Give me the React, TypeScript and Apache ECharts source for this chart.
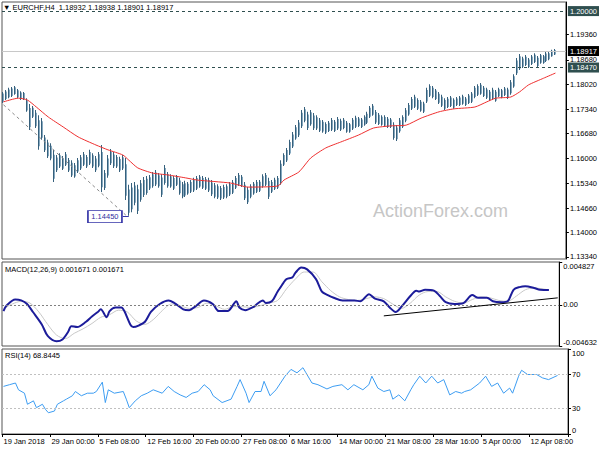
import React, { useEffect, useRef } from 'react';
import * as echarts from 'echarts';

const FONT = '"Liberation Sans", Arial, sans-serif';

// x axis: one slot = two H4 bars
const slotCount = 189;
const labelStep = 16;
const dateLabels = ['19 Jan 2018', '29 Jan 00:00', '5 Feb 08:00', '12 Feb 16:00', '20 Feb 00:00', '27 Feb 08:00', '6 Mar 16:00', '14 Mar 00:00', '21 Mar 08:00', '28 Mar 16:00', '5 Apr 00:00', '12 Apr 08:00'];

const barHigh = [
  1.1781, 1.1786, 1.1792, 1.1794, 1.1797, 1.1789, 1.1783, 1.1781, 1.1764, 1.1748,
  1.1743, 1.1732, 1.1718, 1.1710, 1.1664, 1.1651, 1.1642, 1.1624, 1.1610, 1.1615,
  1.1607, 1.1618, 1.1602, 1.1596, 1.1588, 1.1602, 1.1610, 1.1618, 1.1610, 1.1624,
  1.1615, 1.1607, 1.1618, 1.1637, 1.1569, 1.1610, 1.1626, 1.1618, 1.1610, 1.1605,
  1.1610, 1.1602, 1.1529, 1.1534, 1.1537, 1.1529, 1.1542, 1.1550, 1.1553, 1.1556,
  1.1564, 1.1569, 1.1561, 1.1558, 1.1583, 1.1564, 1.1558, 1.1553, 1.1556, 1.1548,
  1.1537, 1.1540, 1.1537, 1.1542, 1.1548, 1.1553, 1.1556, 1.1553, 1.1550, 1.1548,
  1.1542, 1.1534, 1.1531, 1.1526, 1.1529, 1.1531, 1.1537, 1.1542, 1.1553, 1.1561,
  1.1556, 1.1537, 1.1523, 1.1531, 1.1537, 1.1542, 1.1542, 1.1558, 1.1561, 1.1548,
  1.1542, 1.1548, 1.1553, 1.1596, 1.1615, 1.1629, 1.1651, 1.1672, 1.1691, 1.1705,
  1.1732, 1.1740, 1.1727, 1.1732, 1.1724, 1.1718, 1.1710, 1.1705, 1.1699, 1.1702,
  1.1710, 1.1705, 1.1713, 1.1708, 1.1710, 1.1702, 1.1697, 1.1710, 1.1716, 1.1713,
  1.1710, 1.1718, 1.1727, 1.1743, 1.1748, 1.1732, 1.1724, 1.1718, 1.1718, 1.1713,
  1.1710, 1.1699, 1.1691, 1.1710, 1.1718, 1.1737, 1.1751, 1.1767, 1.1773, 1.1764,
  1.1759, 1.1754, 1.1792, 1.1802, 1.1797, 1.1789, 1.1781, 1.1773, 1.1764, 1.1767,
  1.1770, 1.1764, 1.1767, 1.1770, 1.1773, 1.1767, 1.1775, 1.1781, 1.1797, 1.1802,
  1.1805, 1.1797, 1.1792, 1.1786, 1.1792, 1.1786, 1.1792, 1.1789, 1.1794, 1.1792,
  1.1813, 1.1829, 1.1873, 1.1884, 1.1876, 1.1881, 1.1873, 1.1881, 1.1886, 1.1878,
  1.1884, 1.1881, 1.1889, 1.1889, 1.1895, 1.1897,
];

const barLow = [
  1.1751, 1.1759, 1.1764, 1.1767, 1.1773, 1.1764, 1.1759, 1.1759, 1.1727, 1.1678,
  1.1710, 1.1683, 1.1624, 1.1651, 1.1618, 1.1602, 1.1596, 1.1537, 1.1564, 1.1575,
  1.1569, 1.1580, 1.1564, 1.1550, 1.1548, 1.1561, 1.1569, 1.1580, 1.1575, 1.1583,
  1.1575, 1.1564, 1.1577, 1.1510, 1.1515, 1.1548, 1.1583, 1.1575, 1.1575, 1.1564,
  1.1569, 1.1488, 1.1445, 1.1455, 1.1474, 1.1450, 1.1483, 1.1496, 1.1502, 1.1515,
  1.1521, 1.1526, 1.1521, 1.1496, 1.1529, 1.1521, 1.1521, 1.1515, 1.1526, 1.1502,
  1.1493, 1.1496, 1.1502, 1.1507, 1.1510, 1.1515, 1.1521, 1.1518, 1.1515, 1.1510,
  1.1499, 1.1493, 1.1491, 1.1488, 1.1491, 1.1493, 1.1499, 1.1504, 1.1518, 1.1526,
  1.1523, 1.1488, 1.1477, 1.1493, 1.1502, 1.1507, 1.1510, 1.1521, 1.1526, 1.1491,
  1.1507, 1.1515, 1.1518, 1.1529, 1.1580, 1.1591, 1.1610, 1.1629, 1.1651, 1.1659,
  1.1683, 1.1699, 1.1678, 1.1689, 1.1678, 1.1678, 1.1672, 1.1670, 1.1667, 1.1672,
  1.1675, 1.1672, 1.1678, 1.1675, 1.1680, 1.1670, 1.1670, 1.1678, 1.1683, 1.1686,
  1.1683, 1.1689, 1.1694, 1.1710, 1.1716, 1.1694, 1.1691, 1.1689, 1.1686, 1.1683,
  1.1683, 1.1651, 1.1648, 1.1670, 1.1683, 1.1699, 1.1716, 1.1732, 1.1737, 1.1732,
  1.1727, 1.1724, 1.1751, 1.1767, 1.1764, 1.1759, 1.1748, 1.1740, 1.1732, 1.1737,
  1.1740, 1.1735, 1.1743, 1.1743, 1.1746, 1.1743, 1.1748, 1.1751, 1.1764, 1.1770,
  1.1773, 1.1767, 1.1762, 1.1756, 1.1759, 1.1754, 1.1767, 1.1764, 1.1770, 1.1762,
  1.1773, 1.1792, 1.1827, 1.1840, 1.1846, 1.1851, 1.1846, 1.1854, 1.1859, 1.1848,
  1.1857, 1.1857, 1.1862, 1.1867, 1.1876, 1.1881,
];

// moving average [slot, value]
const maPoints = [
  [0, 1.1754], [5, 1.1764], [8, 1.1759], [11, 1.1740], [15, 1.1713], [20, 1.1686], [25, 1.1659],
  [31, 1.1637], [35, 1.1624], [40, 1.1610], [42, 1.1596], [45, 1.1575], [50, 1.1561], [55, 1.1556],
  [61, 1.1548], [65, 1.1542], [76, 1.1534], [82, 1.1523], [92, 1.1526], [94, 1.1542], [99, 1.1564],
  [103, 1.1602], [108, 1.1629], [113, 1.1645], [119, 1.1664], [124, 1.1683], [130, 1.1689],
  [135, 1.1691], [140, 1.1710], [146, 1.1727], [151, 1.1735], [158, 1.1740], [162, 1.1754],
  [165, 1.1764], [170, 1.1767], [173, 1.1781], [176, 1.1800], [181, 1.1818], [185, 1.1832],
];

const macdPoints = [
  [0, -0.0007], [1, -0.0001], [4, 0.0006], [6, 0.0005], [8, 0.0001], [10, -0.0008], [13, -0.0022],
  [15, -0.0035], [18, -0.0041], [20, -0.0039], [22, -0.0030], [23, -0.0024], [25, -0.0025],
  [28, -0.0019], [30, -0.0013], [32, -0.0008], [33, -0.0005], [35, -0.0014], [36, -0.0007],
  [38, -0.0003], [40, -0.0003], [41, -0.0007], [43, -0.0022], [44, -0.0025], [46, -0.0023],
  [48, -0.0019], [50, -0.0008], [53, 0.0001], [56, 0.0005], [58, 0.0002], [61, -0.0005],
  [63, -0.0006], [65, -0.0002], [68, 0.0005], [71, 0.0001], [73, -0.0007], [76, -0.0007],
  [79, 0.0004], [80, -0.0003], [82, -0.0006], [85, -0.0002], [86, 0.0001], [88, 0.0005],
  [89, 0.0002], [91, 0.0004], [93, 0.0015], [94, 0.0020], [95, 0.0025], [96, 0.0029],
  [98, 0.0031], [99, 0.0036], [101, 0.0042], [103, 0.0040], [106, 0.0029], [108, 0.0015],
  [110, 0.0011], [112, 0.0008], [115, 0.0005], [119, 0.0005], [121, 0.0004], [124, 0.0012],
  [126, 0.0007], [129, 0.0004], [131, -0.0003], [133, -0.0008], [135, -0.0002], [138, 0.0010],
  [140, 0.0016], [141, 0.0015], [143, 0.0017], [146, 0.0016], [148, 0.0010], [150, 0.0003],
  [153, 0.0001], [156, 0.0002], [159, 0.0011], [161, 0.0008], [164, 0.0008], [166, 0.0004],
  [169, 0.0003], [171, 0.0004], [173, 0.0017], [175, 0.0020], [177, 0.0021], [180, 0.0019],
  [182, 0.0017], [185, 0.001671],
];

const signalPoints = [
  [0, -0.0004], [3, 0.0001], [6, 0.0004], [9, 0.0002], [12, -0.0008], [15, -0.0022], [18, -0.0034],
  [21, -0.0038], [24, -0.0032], [27, -0.0027], [30, -0.0021], [33, -0.0014], [36, -0.0011],
  [39, -0.0006], [42, -0.0008], [45, -0.0018], [48, -0.0022], [51, -0.0016], [54, -0.0006],
  [57, 0.0001], [60, -0.0001], [63, -0.0004], [66, -0.0003], [69, 0.0002], [72, -0.0001],
  [75, -0.0005], [78, -0.0002], [81, -0.0002], [84, -0.0003], [87, -0.0001], [90, 0.0002],
  [93, 0.0005], [96, 0.0018], [99, 0.0029], [102, 0.0037], [105, 0.0037], [108, 0.0026],
  [111, 0.0016], [114, 0.0009], [117, 0.0006], [120, 0.0005], [123, 0.0007], [126, 0.0009],
  [129, 0.0007], [132, 0.0001], [135, -0.0004], [138, 0.0002], [141, 0.0011], [144, 0.0015],
  [147, 0.0015], [150, 0.0009], [153, 0.0004], [156, 0.0002], [159, 0.0006], [162, 0.0009],
  [165, 0.0008], [168, 0.0005], [171, 0.0004], [174, 0.0010], [177, 0.0017], [180, 0.0019],
  [183, 0.0018], [185, 0.001671],
];

const rsiPoints = [
  [0, 56], [2, 58], [4, 60], [5, 52], [7, 48], [8, 35], [10, 39], [11, 31], [13, 35], [14, 29],
  [15, 25], [17, 27], [18, 35], [20, 39], [21, 41], [23, 45], [24, 50], [26, 45], [28, 48], [30, 48],
  [31, 50], [33, 61], [34, 37], [35, 52], [37, 48], [40, 50], [41, 41], [42, 31], [44, 39], [46, 45],
  [48, 48], [50, 52], [53, 48], [55, 56], [57, 50], [59, 46], [61, 43], [63, 48], [65, 50], [67, 58],
  [69, 52], [70, 45], [73, 37], [76, 41], [78, 56], [79, 64], [81, 48], [82, 37], [84, 50], [86, 50],
  [87, 62], [89, 45], [91, 52], [94, 68], [96, 76], [98, 72], [100, 78], [101, 72], [103, 60],
  [105, 58], [108, 53], [110, 56], [113, 58], [115, 52], [117, 58], [120, 52], [122, 58], [123, 68],
  [125, 54], [127, 50], [129, 52], [130, 41], [132, 46], [134, 39], [136, 52], [137, 58], [139, 68],
  [141, 60], [143, 68], [145, 60], [147, 64], [149, 46], [151, 50], [153, 48], [154, 50], [156, 52],
  [159, 60], [161, 68], [163, 56], [165, 60], [167, 48], [169, 54], [170, 48], [172, 68], [173, 75],
  [175, 70], [178, 70], [180, 66], [182, 64], [185, 68.8445],
];

const priceTicks = [1.1334, 1.14, 1.1466, 1.1534, 1.16, 1.1668, 1.1734, 1.1802, 1.1868, 1.1936];
const macdTicks = [-0.004632, 0, 0.004827];
const rsiTicks = [0, 30, 70, 100];

const levelHigh = 1.2;
const levelLow = 1.1847;
const bidPrice = 1.18917;
const swingLow = 1.1445;
const trendStart = [0, 1.1746];
const trendEnd = [41, 1.1447];
const macdTrendStart = [129, -0.00124];
const macdTrendEnd = [188, 0.00079];

export default function App() {
  const ref = useRef<HTMLDivElement>(null);

  useEffect(() => {
    const chart = echarts.init(ref.current as HTMLDivElement, null, { renderer: 'svg' });
    const categories = Array.from({ length: slotCount }, (_, i) =>
      i % labelStep === 0 ? dateLabels[i / labelStep] ?? '' : ''
    );
    const every = (i: number) => i % labelStep === 0;
    const txt = { fontSize: 7.5, color: '#000', fontFamily: FONT };

    const hiddenX = (g: number) => ({
      type: 'category',
      gridIndex: g,
      data: categories,
      boundaryGap: true,
      axisLine: { show: false },
      axisTick: { show: false },
      axisLabel: { show: false },
      splitLine: { show: false },
    });

    const yBase = (g: number, min: number, max: number, ticks: number[], fmt: (v: number) => string, edge: boolean) => ({
      type: 'value',
      gridIndex: g,
      position: 'right',
      min,
      max,
      splitLine: { show: false },
      axisLine: { show: true, lineStyle: { color: '#000', width: 1 } },
      axisTick: { show: true, length: 3, customValues: ticks, lineStyle: { color: '#000' } },
      axisLabel: {
        ...txt,
        margin: 4,
        customValues: ticks,
        formatter: fmt,
        ...(edge ? { verticalAlignMinLabel: 'bottom', verticalAlignMaxLabel: 'top' } : {}),
      },
    });

    const boxLabel = (text: string, bg: string) => ({
      show: true,
      position: 'end',
      distance: 2,
      formatter: text,
      backgroundColor: bg,
      color: '#fff',
      padding: [1, 2, 1, 2],
      fontSize: 7.5,
      fontFamily: FONT,
    });

    const option: any = {
      animation: false,
      backgroundColor: '#ffffff',
      title: [
        { text: '\u25BC EURCHF,H4  1.18932 1.18938 1.18901 1.18917', left: 3, top: 3, padding: 0, textStyle: { ...txt, fontWeight: 'normal' } },
        { text: 'MACD(12,26,9) 0.001671 0.001671', left: 5, top: 265, padding: 0, textStyle: { ...txt, fontWeight: 'normal' } },
        { text: 'RSI(14) 68.8445', left: 5, top: 351, padding: 0, textStyle: { ...txt, fontWeight: 'normal' } },
      ],
      grid: [
        { left: 2, top: 2, width: 566, height: 257, show: true, borderColor: '#555', borderWidth: 1 },
        { left: 2, top: 262, width: 566, height: 84, show: true, borderColor: '#555', borderWidth: 1 },
        { left: 2, top: 349, width: 566, height: 85, show: true, borderColor: '#555', borderWidth: 1 },
      ],
      xAxis: [
        hiddenX(0),
        hiddenX(1),
        {
          ...hiddenX(2),
          axisLine: { show: true, lineStyle: { color: '#000' } },
          axisTick: { show: true, interval: every, length: 3, lineStyle: { color: '#000' } },
          axisLabel: { ...txt, show: true, interval: every, align: 'left', margin: 3 },
        },
      ],
      yAxis: [
        yBase(0, 1.13281, 1.20246, priceTicks, (v: number) => v.toFixed(5), false),
        yBase(1, -0.004632, 0.004827, macdTicks, (v: number) => (v === 0 ? '0.00' : v.toFixed(6)), true),
        yBase(2, 0, 100, rsiTicks, (v: number) => String(v), true),
      ],
      graphic: [
        {
          type: 'text',
          left: 373,
          top: 202,
          z: 0,
          style: { text: 'ActionForex.com', fill: '#c6c6c6', font: `18px ${FONT}` },
        },
      ],
      series: [
        {
          type: 'custom',
          name: 'bars',
          xAxisIndex: 0,
          yAxisIndex: 0,
          data: barHigh.map((h, i) => [i, barLow[i], h]),
          encode: { x: 0, y: [1, 2] },
          renderItem: (_p: any, api: any) => {
            const i = api.value(0);
            const top = api.coord([i, api.value(2)]);
            const bot = api.coord([i, api.value(1)]);
            const h = Math.max(1, bot[1] - top[1]);
            const x0 = Math.round(top[0]) - 1;
            return {
              type: 'group',
              children: [
                { type: 'rect', shape: { x: x0, y: top[1], width: 1, height: h }, style: { fill: '#36607c' } },
                { type: 'rect', shape: { x: x0 + 1, y: top[1] + h * 0.15, width: 1, height: h * 0.75 }, style: { fill: '#86a9c0' } },
              ],
            };
          },
          z: 3,
        },
        {
          type: 'line',
          name: 'MA',
          xAxisIndex: 0,
          yAxisIndex: 0,
          data: maPoints,
          showSymbol: false,
          smooth: 0.2,
          lineStyle: { color: '#ee3030', width: 1 },
          z: 4,
          markLine: {
            silent: true,
            precision: 6,
            symbol: ['none', 'none'],
            data: [
              { yAxis: levelHigh, lineStyle: { color: '#2f4f4f', type: [3, 3], width: 1 }, label: boxLabel('1.20000', '#2f4f4f') },
              { yAxis: levelLow, lineStyle: { color: '#2f4f4f', type: [3, 3], width: 1 }, label: boxLabel('1.18470', '#2f4f4f') },
              { yAxis: bidPrice, lineStyle: { color: '#c8c8c8', type: 'solid', width: 1 }, label: boxLabel('1.18917', '#000') },
              [
                { coord: trendStart, lineStyle: { color: '#8a8a8a', type: [3, 3], width: 1 }, label: { show: false } },
                { coord: trendEnd },
              ],
              [
                { coord: [40, swingLow - 0.0002], lineStyle: { color: '#3535a8', type: 'solid', width: 1 }, label: { show: false } },
                { coord: [42, swingLow - 0.0002] },
              ],
            ],
          },
          markPoint: {
            silent: true,
            data: [
              {
                coord: [34, swingLow - 0.0002],
                symbol: 'rect',
                symbolSize: [34, 12],
                itemStyle: { color: '#ffffff', borderColor: '#3535a8', borderWidth: 1 },
                label: { show: true, position: 'inside', formatter: '1.14450', color: '#2f2fa0', fontSize: 7.5, fontFamily: FONT },
              },
            ],
          },
        },
        {
          type: 'line',
          name: 'Signal',
          xAxisIndex: 1,
          yAxisIndex: 1,
          data: signalPoints,
          showSymbol: false,
          smooth: 0.3,
          lineStyle: { color: '#c8c8c8', width: 1 },
          z: 2,
          markLine: {
            silent: true,
            precision: 8,
            symbol: ['none', 'none'],
            data: [
              { yAxis: 0, lineStyle: { color: '#808080', type: [2, 2], width: 1 }, label: { show: false } },
              [
                { coord: macdTrendStart, lineStyle: { color: '#000', type: 'solid', width: 1 }, label: { show: false } },
                { coord: macdTrendEnd },
              ],
            ],
          },
        },
        {
          type: 'line',
          name: 'MACD',
          xAxisIndex: 1,
          yAxisIndex: 1,
          data: macdPoints,
          showSymbol: false,
          smooth: 0.3,
          lineStyle: { color: '#1c1c9a', width: 2 },
          z: 3,
        },
        {
          type: 'line',
          name: 'RSI',
          xAxisIndex: 2,
          yAxisIndex: 2,
          data: rsiPoints,
          showSymbol: false,
          lineStyle: { color: '#3d9df2', width: 1 },
          z: 3,
          markLine: {
            silent: true,
            symbol: ['none', 'none'],
            data: [
              { yAxis: 70, lineStyle: { color: '#c0c0c0', type: [2, 2], width: 1 }, label: { show: false } },
              { yAxis: 30, lineStyle: { color: '#c0c0c0', type: [2, 2], width: 1 }, label: { show: false } },
            ],
          },
        },
      ],
    };

    chart.setOption(option);
    return () => chart.dispose();
  }, []);

  return <div ref={ref} style={{ position: 'absolute', left: 0, top: 0, width: 600, height: 450 }} />;
}
